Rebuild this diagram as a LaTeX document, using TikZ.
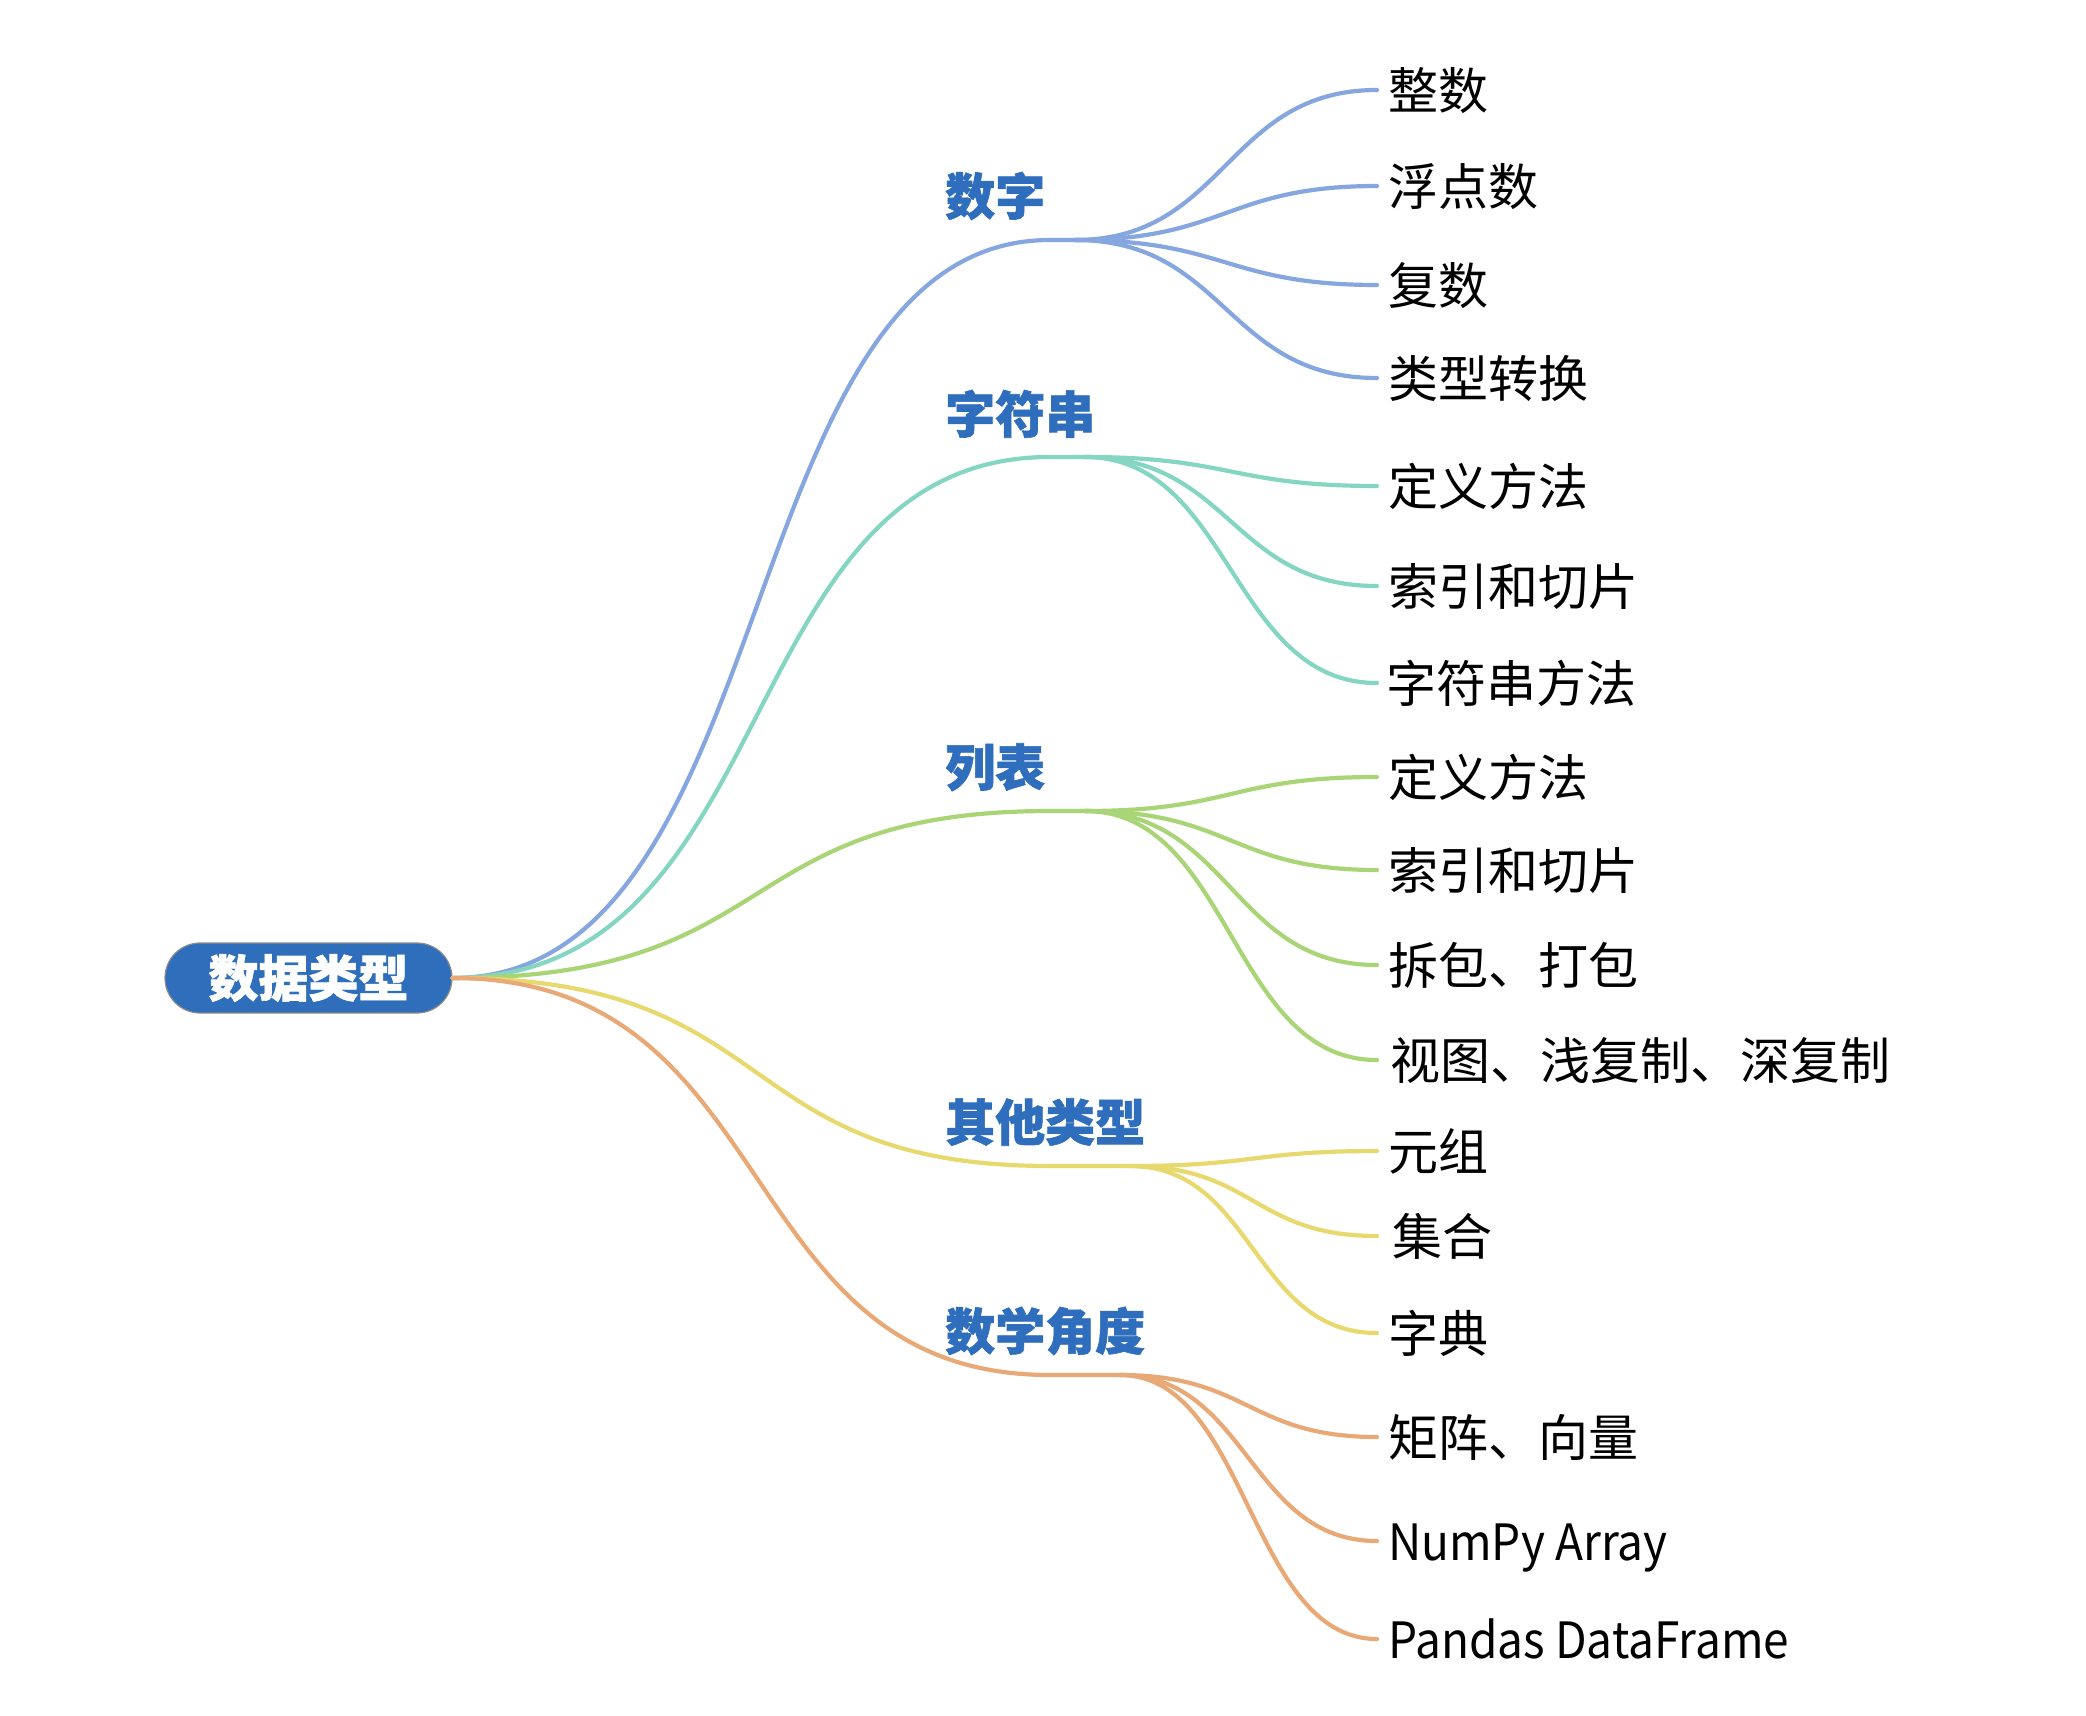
\documentclass[tikz,border=0pt]{standalone}
\usepackage{fontspec}
\newfontfamily\cjk[BoldFeatures={FakeBold=1.2}]{Noto Sans CJK SC}
\newfontfamily\latn[FakeStretch=0.92]{Noto Sans CJK SC}
\definecolor{rootblue}{HTML}{2F6EBA}
\definecolor{rootedge}{HTML}{8C8C8C}
\definecolor{labblue}{HTML}{2E6EBD}
\definecolor{cA}{HTML}{86A6E0}
\definecolor{cB}{HTML}{84D6C3}
\definecolor{cC}{HTML}{A9D576}
\definecolor{cD}{HTML}{E8D96E}
\definecolor{cE}{HTML}{E8A976}
\tikzset{
  rootbox/.style={rectangle, rounded corners=35pt, fill=rootblue, draw=rootedge, line width=1.2pt,
    minimum width=287pt, minimum height=70pt, inner sep=0pt, text=white,
    font=\cjk\bfseries\fontsize{50}{50}\selectfont},
  lab/.style={anchor=base west, inner sep=0pt, text=labblue,
    font=\cjk\bfseries\fontsize{50}{60}\selectfont},
  leaf/.style={anchor=west, inner sep=0pt, text height=38pt, text depth=0pt,
    font=\cjk\fontsize{50}{60}\selectfont},
  conn/.style={line width=4.2pt, line cap=round},
}
\begin{document}
\begin{tikzpicture}[x=1pt,y=-1pt]
\useasboundingbox[fill=white] (0,0) rectangle (2086,1716);

% root
\node[rootbox] (root) at (308.5,978) {数据类型};

% branch labels
\node[lab] (lA) at (945,215) {数字};
\node[lab] (lB) at (945,433) {字符串};
\node[lab] (lC) at (945,786) {列表};
\node[lab] (lD) at (945,1141) {其他类型};
\node[lab] (lE) at (945,1350) {数学角度};

% junctions
\coordinate (jA) at (1050,240);  \coordinate (sA) at (1075,240);
\coordinate (jB) at (1050,457);  \coordinate (sB) at (1085,457);
\coordinate (jC) at (1050,811);  \coordinate (sC) at (1085,811);
\coordinate (jD) at (1050,1166); \coordinate (sD) at (1130,1166);
\coordinate (jE) at (1050,1375); \coordinate (sE) at (1120,1375);

% leaves
\node[leaf] (a1) at (1388,90)  {整数};
\node[leaf] (a2) at (1388,186) {浮点数};
\node[leaf] (a3) at (1388,285) {复数};
\node[leaf] (a4) at (1388,378) {类型转换};
\node[leaf] (b1) at (1388,486) {定义方法};
\node[leaf] (b2) at (1388,586) {索引和切片};
\node[leaf] (b3) at (1386,683) {字符串方法};
\node[leaf] (c1) at (1388,777) {定义方法};
\node[leaf] (c2) at (1388,870) {索引和切片};
\node[leaf] (c3) at (1388,965) {拆包、打包};
\node[leaf] (c4) at (1390,1060) {视图、浅复制、深复制};
\node[leaf] (d1) at (1388,1151) {元组};
\node[leaf] (d2) at (1392,1236) {集合};
\node[leaf] (d3) at (1388,1333) {字典};
\node[leaf] (e1) at (1388,1437) {矩阵、向量};
\node[leaf] (e2) at (1388,1541) {\latn NumPy Array};
\node[leaf] (e3) at (1388,1639) {\latn Pandas DataFrame};

% main branches
\draw[conn,cA] (root.east) .. controls +(335,0) and +(-323,0) .. (jA) -- (sA);
\draw[conn,cB] (root.east) .. controls +(335,0) and +(-323,0) .. (jB) -- (sB);
\draw[conn,cC] (root.east) .. controls +(335,0) and +(-323,0) .. (jC) -- (sC);
\draw[conn,cD] (root.east) .. controls +(335,0) and +(-323,0) .. (jD) -- (sD);
\draw[conn,cE] (root.east) .. controls +(335,0) and +(-323,0) .. (jE) -- (sE);

% children
\foreach \n in {a1,a2,a3,a4}
  \draw[conn,cA] (sA) .. controls +(151,0) and +(-151,0) .. ([xshift=-11pt]a1.west |- \n.west);
\foreach \n in {b1,b2,b3}
  \draw[conn,cB] (sB) .. controls +(146,0) and +(-146,0) .. ([xshift=-11pt]a1.west |- \n.west);
\foreach \n in {c1,c2,c3,c4}
  \draw[conn,cC] (sC) .. controls +(146,0) and +(-146,0) .. ([xshift=-11pt]a1.west |- \n.west);
\foreach \n in {d1,d2,d3}
  \draw[conn,cD] (sD) .. controls +(124,0) and +(-124,0) .. ([xshift=-11pt]a1.west |- \n.west);
\foreach \n in {e1,e2,e3}
  \draw[conn,cE] (sE) .. controls +(128,0) and +(-128,0) .. ([xshift=-11pt]a1.west |- \n.west);
\end{tikzpicture}
\end{document}
